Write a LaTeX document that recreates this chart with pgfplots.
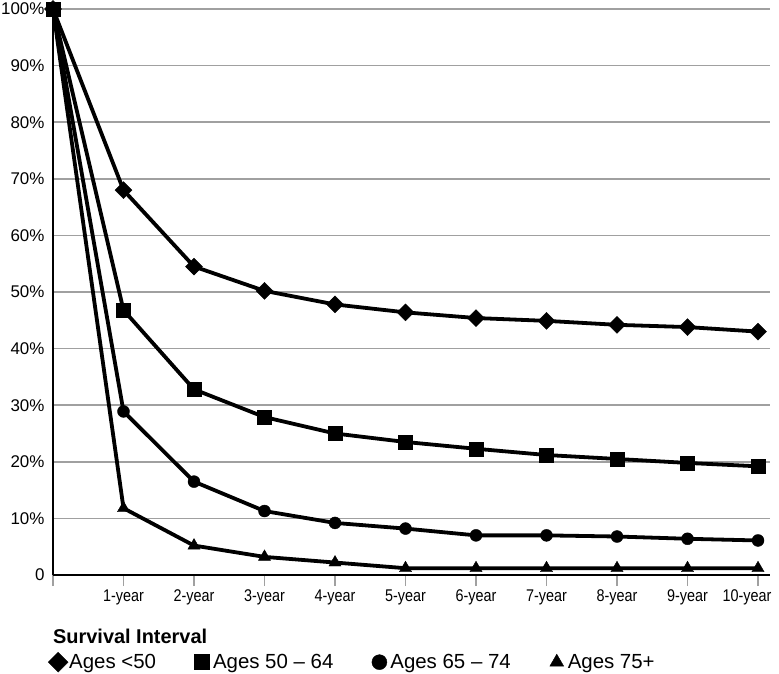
\documentclass[border=0pt]{standalone}
\usepackage{fontspec}
\setmainfont{Liberation Sans}
\newfontfamily\condfont[FakeStretch=0.85]{Liberation Sans}
\usepackage{pgfplots}
\pgfplotsset{compat=1.18}
\definecolor{gridgray}{RGB}{160,160,160}
\begin{document}
\begin{tikzpicture}
\useasboundingbox (-53bp,-99bp) rectangle (726bp,575bp);
\begin{axis}[
  at={(0,0)}, anchor=south west,
  scale only axis, width=717bp, height=566bp,
  xmin=0, xmax=10.17, ymin=0, ymax=100,
  clip=false,
  axis x line=bottom, axis y line=left,
  axis line style={-, black, line width=1.5bp},
  xtick={0,...,10},
  xticklabels={,1-year,2-year,3-year,4-year,5-year,6-year,7-year,8-year,9-year,\hspace*{-22bp}10-year},
  ytick={0,10,...,100},
  yticklabels={0,10\%,20\%,30\%,40\%,50\%,60\%,70\%,80\%,90\%,100\%},
  ymajorgrids,
  grid style={gridgray, line width=1.5bp},
  tick align=outside,
  major tick length=11bp,
  xtick style={gridgray, line width=1.2bp},
  ytick style={draw=none},
  xticklabel style={font=\condfont\fontsize{17}{20}\selectfont},
  yticklabel style={font=\fontsize{17}{20}\selectfont, xshift=6bp},
  legend columns=4,
  legend style={at={(axis description cs:-0.007,-0.154)}, anchor=west,
    draw=none, fill=none, inner sep=0pt,
    nodes={inner sep=1bp, anchor=west},
    font=\fontsize{20.5}{24}\selectfont,
    /tikz/every even column/.append style={column sep=35bp}},
  legend image code/.code={\path[draw=none,fill=none] (0bp,-7bp) rectangle (20bp,7bp); \draw[only marks,#1] plot coordinates {(10bp,0bp)};},
]
% Ages <50
\addplot[forget plot, black, line width=3.8bp, mark=square*, mark size=6bp, mark options={rotate=45, solid, line width=0.4bp}]
coordinates {(0,100)(1,68.0)(2,54.5)(3,50.2)(4,47.8)(5,46.4)(6,45.4)(7,44.9)(8,44.2)(9,43.8)(10,43.0)};
% Ages 50-64
\addplot[forget plot, black, line width=3.8bp, mark=square*, mark size=7bp, mark options={solid, line width=0.4bp}]
coordinates {(0,100)(1,46.8)(2,32.8)(3,27.9)(4,25.0)(5,23.5)(6,22.3)(7,21.2)(8,20.5)(9,19.8)(10,19.2)};
% Ages 65-74
\addplot[forget plot, black, line width=3.8bp, mark=*, mark size=6bp, mark options={solid, line width=0.4bp}]
coordinates {(0,100)(1,28.9)(2,16.5)(3,11.3)(4,9.2)(5,8.2)(6,7.0)(7,7.0)(8,6.8)(9,6.4)(10,6.1)};
% Ages 75+
\addplot[forget plot, black, line width=3.8bp, mark=triangle*, mark size=7bp, mark options={solid, line width=0.4bp}]
coordinates {(0,100)(1,11.8)(2,5.2)(3,3.2)(4,2.2)(5,1.2)(6,1.2)(7,1.2)(8,1.2)(9,1.2)(10,1.2)};
\addlegendimage{black, mark=square*, mark size=7bp, mark options={rotate=45, line width=0.4bp}}
\addlegendentry{Ages <50}
\addlegendimage{black, mark=square*, mark size=7.5bp, mark options={line width=0.4bp}}
\addlegendentry{Ages 50 – 64}
\addlegendimage{black, mark=*, mark size=7.5bp, mark options={line width=0.4bp}}
\addlegendentry{Ages 65 – 74}
\addlegendimage{black, mark=triangle*, mark size=8bp, mark options={line width=0.4bp}}
\addlegendentry{Ages 75+}
\node[anchor=west, inner sep=0pt, font=\bfseries\fontsize{20}{24}\selectfont] at (axis description cs:0,-0.108) {Survival Interval};
\end{axis}
\end{tikzpicture}
\end{document}
